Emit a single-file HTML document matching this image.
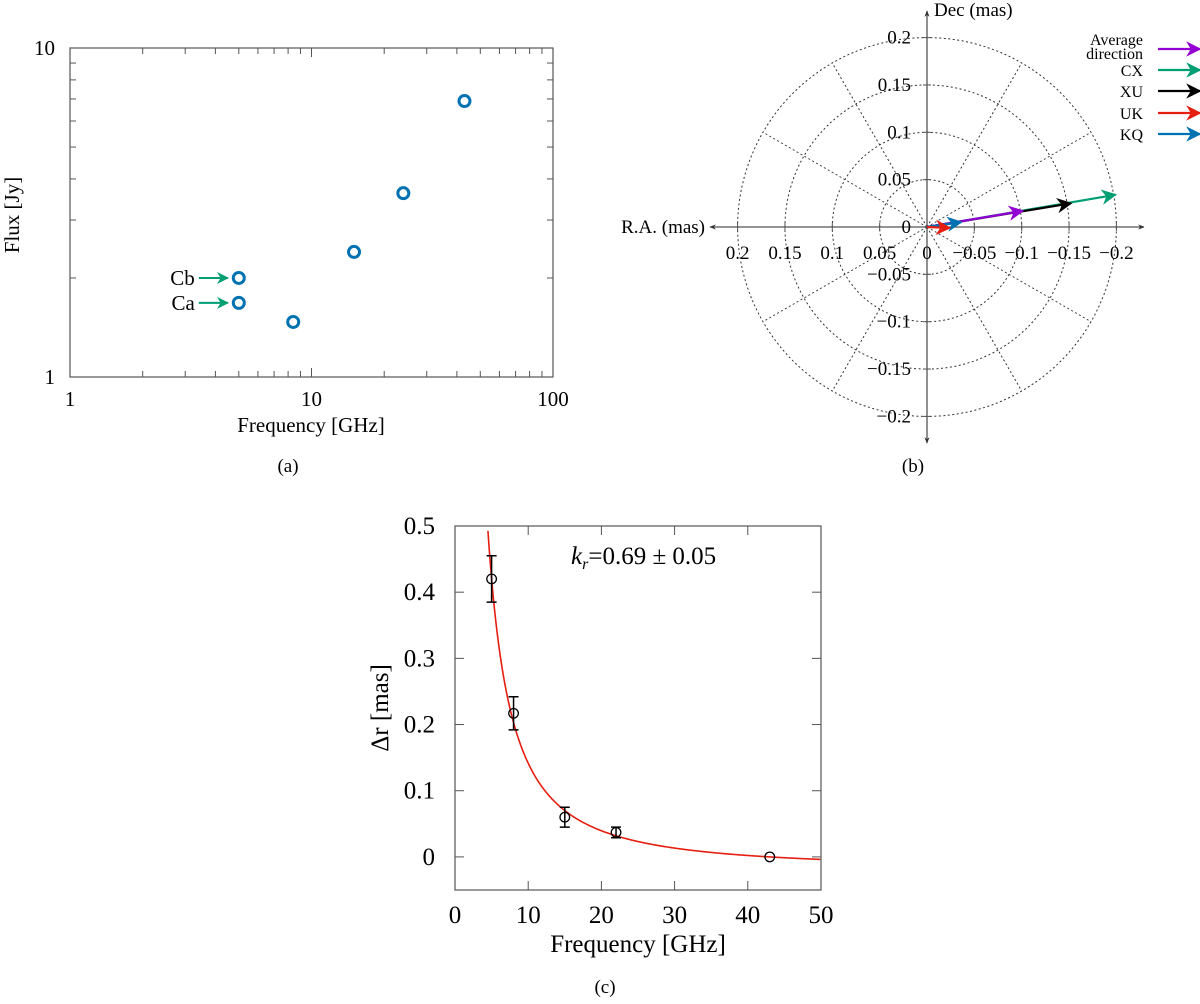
<!DOCTYPE html>
<html><head><meta charset="utf-8"><style>
html,body{margin:0;padding:0;background:#fff;}
svg{display:block;font-family:"Liberation Serif",serif;}
</style></head><body>
<svg id="fig" width="1200" height="1004" viewBox="0 0 1200 1004" xmlns="http://www.w3.org/2000/svg">
<defs>
<marker id="ah" viewBox="0 0 10 10" refX="9" refY="5" markerWidth="6" markerHeight="6" orient="auto-start-reverse"><path d="M0,0 L10,5 L0,10 L3,5 z" fill="context-stroke"/></marker>
<marker id="ahb" viewBox="0 0 10 10" refX="9" refY="5" markerWidth="7" markerHeight="7" orient="auto-start-reverse"><path d="M0,0 L10,5 L0,10 L3,5 z" fill="context-stroke"/></marker>
<marker id="ahk" viewBox="0 0 10 10" refX="9" refY="5" markerWidth="5" markerHeight="5" orient="auto-start-reverse"><path d="M0,1 L10,5 L0,9 L3,5 z" fill="#333"/></marker>
</defs>
<g id="pa"></g>
<g id="pb"></g>
<g id="pc"></g>
</svg>
<script>
// ---------- Panel (a) data ----------
const aFreq = [5, 5, 8.4, 15, 24, 43];
const aFlux = [1.68, 2.0, 1.47, 2.4, 3.62, 6.9];
const aLabels = ["Ca", "Cb"];
const aXTicks = ["1", "10", "100"];
const aYTicks = ["1", "10"];
// ---------- Panel (b) data ----------
const bNames = ["Average direction", "CX", "XU", "UK", "KQ"];
const bColors = ["#9400d3", "#009e73", "#000000", "#e51e10", "#0072b2"];
const bRA = [0.101, 0.199, 0.152, 0.024, 0.036];
const bDec = [0.017, 0.034, 0.025, -0.001, 0.005];
const bRadii = [0.05, 0.1, 0.15, 0.2];
const bRaTicks = ["0.2", "0.15", "0.1", "0.05", "0", "\u22120.05", "\u22120.1", "\u22120.15", "\u22120.2"];
const bDecTicks = ["0.2", "0.15", "0.1", "0.05", "0", "\u22120.05", "\u22120.1", "\u22120.15", "\u22120.2"];
// ---------- Panel (c) data ----------
const cFreq = [5, 8, 15, 22, 43];
const cShift = [0.42, 0.217, 0.06, 0.037, 0];
const cErr = [0.035, 0.025, 0.015, 0.008, 0];
const cXTicks = ["0", "10", "20", "30", "40", "50"];
const cYTicks = ["0", "0.1", "0.2", "0.3", "0.4", "0.5"];
const cFit = [4.53, 0.69, 43]; // amplitude, k_r, reference freq

const NS = "http://www.w3.org/2000/svg";
function mk(parent, tag, attrs, text) {
  const e = document.createElementNS(NS, tag);
  for (const k in attrs) e.setAttribute(k, attrs[k]);
  if (text !== undefined) e.textContent = text;
  parent.appendChild(e);
  return e;
}

// ===== Panel (a) =====
(function(){
  const g = document.getElementById('pa');
  const L=70, R=553, T=48, B=377;
  const xs = v => L + (R-L)*Math.log10(v)/2;
  const ys = v => B - (B-T)*Math.log10(v);
  let e = mk(g,'rect',{x:L,y:T,width:R-L,height:B-T,fill:'none',stroke:'#555','stroke-width':1.2});
   
  for (let d=0; d<2; d++) for (let m=1; m<=9; m++) {
    const v = m*Math.pow(10,d); const len = m===1?9:6;
    const x = xs(v);
    mk(g,'line',{x1:x,y1:B,x2:x,y2:B-len,stroke:'#555'});
    mk(g,'line',{x1:x,y1:T,x2:x,y2:T+len,stroke:'#555'});
    if (d===0){ const yy=ys(m); mk(g,'line',{x1:L,y1:yy,x2:L+len,y2:yy,stroke:'#555'}); mk(g,'line',{x1:R,y1:yy,x2:R-len,y2:yy,stroke:'#555'}); }
  }
  aXTicks.forEach((t,i)=>{ e=mk(g,'text',{x:xs(Math.pow(10,i)),y:B+29,'font-size':21,'text-anchor':'middle'},t);
      });
  aYTicks.forEach((t,i)=>{ e=mk(g,'text',{x:L-15,y:ys(Math.pow(10,i))+7,'font-size':21,'text-anchor':'end'},t);
      });
  e=mk(g,'text',{x:311,y:432,'font-size':21,'text-anchor':'middle'},'Frequency [GHz]');
   
  e=mk(g,'text',{x:0,y:0,'font-size':21,'text-anchor':'middle',transform:'translate(19,215) rotate(-90)'},'Flux [Jy]');
   
  e=mk(g,'text',{x:288,y:472,'font-size':19,'text-anchor':'middle'},'(a)');
   
  aFreq.forEach((f,i)=>{
    e=mk(g,'circle',{cx:xs(f),cy:ys(aFlux[i]),r:5.5,fill:'none',stroke:'#0072b2','stroke-width':3});
     
  });
  aLabels.forEach((lab,i)=>{
    const y=ys(aFlux[i]), x=xs(aFreq[i]);
    e=mk(g,'line',{x1:x-40,y1:y,x2:x-11,y2:y,stroke:'#009e73','stroke-width':2,'marker-end':'url(#ah)'});
     
    e=mk(g,'text',{x:x-44,y:y+7,'font-size':21,'text-anchor':'end'},lab);
     
  });
})();

// ===== Panel (b) =====
(function(){
  const g = document.getElementById('pb');
  const cx=927, cy=227, k=947;
  const px = ra => cx + ra*k;
  const py = d => cy - d*k;
  let e;
  bRadii.forEach(r=>{ e=mk(g,'circle',{cx:cx,cy:cy,r:r*k,fill:'none',stroke:'#333','stroke-width':1,'stroke-dasharray':'2,2.5'});
      });
  for (let a=0; a<360; a+=30){ if (a%90===0) continue;
    const rad=a*Math.PI/180, R=0.2*k;
    e=mk(g,'line',{x1:cx,y1:cy,x2:cx+R*Math.cos(rad),y2:cy-R*Math.sin(rad),stroke:'#333','stroke-width':1,'stroke-dasharray':'2,2.5'});
      }
  e=mk(g,'line',{x1:710,y1:cy,x2:1144,y2:cy,stroke:'#555','stroke-width':1.3,'marker-start':'url(#ahk)','marker-end':'url(#ahk)'});
   
  e=mk(g,'line',{x1:cx,y1:443,x2:cx,y2:11,stroke:'#555','stroke-width':1.3,'marker-start':'url(#ahk)','marker-end':'url(#ahk)'});
   
  bRaTicks.forEach((t,i)=>{ const v=-0.2+0.05*i; const x=px(v);
    mk(g,'line',{x1:x,y1:cy-4,x2:x,y2:cy+4,stroke:'#555'});
    e=mk(g,'text',{x:x,y:259,'font-size':19,'text-anchor':'middle'},t);
      });
  bDecTicks.forEach((t,i)=>{ const v=0.2-0.05*i; const y=py(v);
    mk(g,'line',{x1:cx-4,y1:y,x2:cx+4,y2:y,stroke:'#555'});
    e=mk(g,'text',{x:cx-16,y:y+6,'font-size':19,'text-anchor':'end'},t);
      });
  e=mk(g,'text',{x:934,y:16,'font-size':19},'Dec (mas)');
   
  e=mk(g,'text',{x:705,y:233,'font-size':19,'text-anchor':'end'},'R.A. (mas)');
   
  e=mk(g,'text',{x:913,y:472,'font-size':19,'text-anchor':'middle'},'(b)');
   
  const order=[1,2,0,4,3];
  order.forEach(i=>{
    e=mk(g,'line',{x1:cx,y1:cy,x2:px(bRA[i]),y2:py(bDec[i]),stroke:bColors[i],'stroke-width':2.2,'marker-end':'url(#ahb)'});
     
  });
  const ly=[49,70,91,113,134];
  bNames.forEach((n,i)=>{
    if (i===0){
      e=mk(g,'text',{x:1143,y:ly[0]-4,'font-size':16,'text-anchor':'end'},'Average');
       
      e=mk(g,'text',{x:1143,y:ly[0]+10,'font-size':16,'text-anchor':'end'},'direction');
       
    } else {
      e=mk(g,'text',{x:1143,y:ly[i]+6,'font-size':16,'text-anchor':'end'},n);
       
    }
    e=mk(g,'line',{x1:1158,y1:ly[i],x2:1200,y2:ly[i],stroke:bColors[i],'stroke-width':2.2,'marker-end':'url(#ahb)'});
     
  });
})();

// ===== Panel (c) =====
(function(){
  const g = document.getElementById('pc');
  const L=455, R=821, T=526, B=890;
  const xs = v => L + (R-L)*v/50;
  const ys = v => B - (B-T)*(v+0.05)/0.55;
  let e=mk(g,'rect',{x:L,y:T,width:R-L,height:B-T,fill:'none',stroke:'#555','stroke-width':1.2});
   
  cXTicks.forEach((t,i)=>{ const v=i*10, x=xs(v);
    if (i>0&&i<5){ mk(g,'line',{x1:x,y1:B,x2:x,y2:B-9,stroke:'#555'}); mk(g,'line',{x1:x,y1:T,x2:x,y2:T+9,stroke:'#555'}); }
    e=mk(g,'text',{x:x,y:B+33,'font-size':25,'text-anchor':'middle'},t);
      });
  cYTicks.forEach((t,i)=>{ const v=i*0.1, y=ys(v);
    if (i<5){ mk(g,'line',{x1:L,y1:y,x2:L+9,y2:y,stroke:'#555'}); mk(g,'line',{x1:R,y1:y,x2:R-9,y2:y,stroke:'#555'}); }
    e=mk(g,'text',{x:L-20,y:y+8,'font-size':25,'text-anchor':'end'},t);
      });
  e=mk(g,'text',{x:638,y:952,'font-size':25,'text-anchor':'middle'},'Frequency [GHz]');
   
  e=mk(g,'text',{x:0,y:0,'font-size':25,'text-anchor':'middle',transform:'translate(388,708) rotate(-90)'},'\u0394r [mas]');
   
  e=mk(g,'text',{x:605,y:993,'font-size':19,'text-anchor':'middle'},'(c)');
   
  e=mk(g,'text',{x:571,y:564,'font-size':25});
   
  mk(e,'tspan',{'font-style':'italic'},'k');
  mk(e,'tspan',{'font-style':'italic','font-size':16,dy:5},'r');
  mk(e,'tspan',{dy:-5},'=0.69 \u00b1 0.05');
  const [A,kr,nref]=cFit; const off=Math.pow(nref,-1/kr);
  let d=''; let first=true;
  for (let f=4.3; f<=50; f+=0.1){ const v=A*(Math.pow(f,-1/kr)-off); const y=ys(v);
    if (y<T) continue; d+=(first?'M':'L')+xs(f).toFixed(2)+','+y.toFixed(2); first=false; }
  e=mk(g,'path',{d:d,fill:'none',stroke:'#e51e10','stroke-width':1.6});
   
  cFreq.forEach((f,i)=>{
    const x=xs(f), y=ys(cShift[i]);
    if (cErr[i]>0){ const y1=ys(cShift[i]+cErr[i]), y2=ys(cShift[i]-cErr[i]);
      e=mk(g,'path',{d:`M${x},${y1}L${x},${y2}M${x-5},${y1}L${x+5},${y1}M${x-5},${y2}L${x+5},${y2}`,stroke:'#000','stroke-width':1.5,fill:'none'});
        }
    e=mk(g,'circle',{cx:x,cy:y,r:4.8,fill:'none',stroke:'#000','stroke-width':1.3});
     
  });
})();
</script>
</body></html>
